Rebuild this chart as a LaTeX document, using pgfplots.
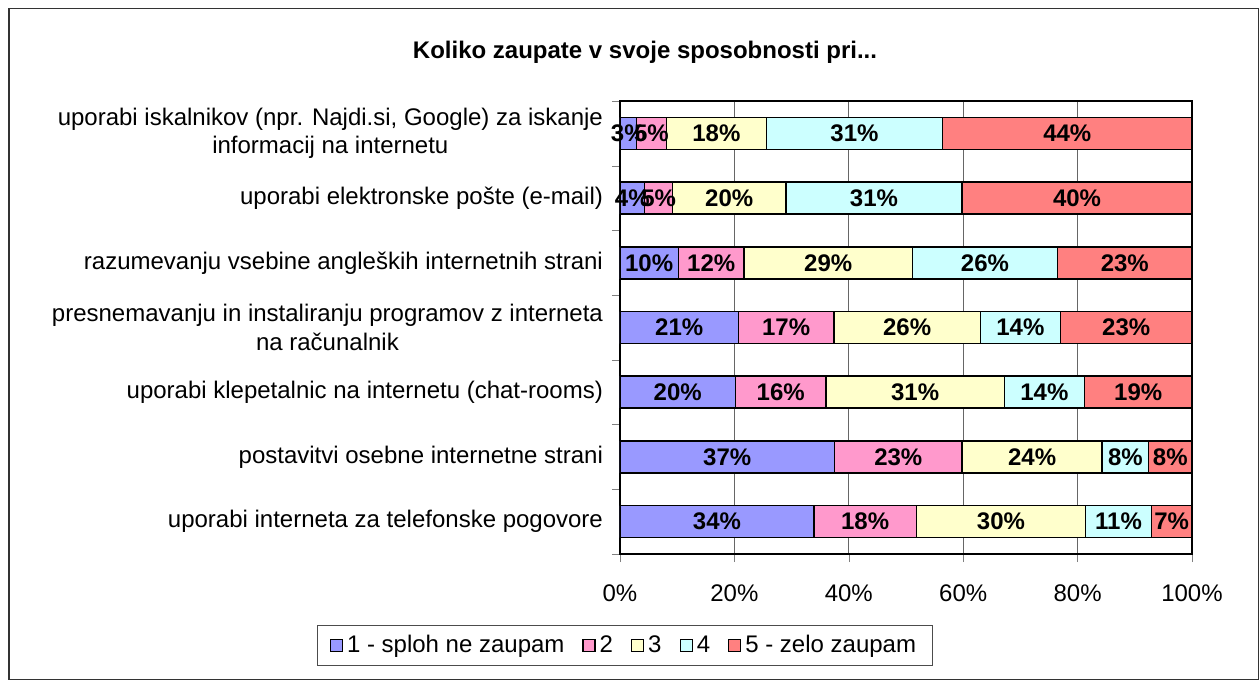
\documentclass[border=0pt]{standalone}
\usepackage{fontspec}
\setmainfont{Liberation Sans}
\usepackage{pgfplots}
\usepackage{pgfplotstable}
\pgfplotsset{compat=1.18}

\definecolor{c1}{HTML}{9999FF}
\definecolor{c2}{HTML}{FF99CC}
\definecolor{c3}{HTML}{FFFFCC}
\definecolor{c4}{HTML}{CCFFFF}
\definecolor{c5}{HTML}{FF8080}
\newcommand\chartfont{\fontsize{12}{14.4}\selectfont}

% y=6 is the top row; a..e shares, la..le printed labels
\pgfplotstableread{
y  a    b    c    d    e    la lb lc ld le
6  2.9  5.2  17.5 30.8 43.6 3  5  18 31 44
5  4.3  4.9  19.8 30.8 40.2 4  5  20 31 40
4  10.2 11.5 29.4 25.4 23.5 10 12 29 26 23
3  20.7 16.7 25.6 14.0 23.0 21 17 26 14 23
2  20.2 15.8 31.2 14.0 18.8 20 16 31 14 19
1  37.5 22.3 24.5 8.1  7.6  37 23 24 8  8
0  33.9 17.9 29.6 11.5 7.1  34 18 30 11 7
}\data

\begin{document}
\begin{tikzpicture}
\useasboundingbox (-310pt,-63.5pt) rectangle (320pt,277pt);
\draw[black!80, line width=0.75pt] (-305.5pt,-62.75pt) rectangle (319.25pt,272.75pt);
\begin{axis}[
    xbar stacked,
    scale only axis,
    width=286pt, height=226.5pt,
    xmin=0, xmax=100, ymin=-0.5, ymax=6.5,
    bar width=16pt,
    tick pos=left, tick align=outside,
    major tick length=0pt, minor tick length=4pt,
    xtick={0,20,...,100},
    minor xtick={0,20,...,100},
    xticklabels={0\%,20\%,40\%,60\%,80\%,100\%},
    xticklabel style={font=\chartfont, yshift=-12pt},
    ytick={0,...,6},
    minor ytick={-0.5,0.5,...,6.5},
    yticklabels={
        uporabi interneta za telefonske pogovore,
        postavitvi osebne internetne strani,
        uporabi klepetalnic na internetu (chat-rooms),
        presnemavanju in instaliranju programov z interneta\\na računalnik,
        razumevanju vsebine angleških internetnih strani,
        uporabi elektronske pošte (e-mail),
        {uporabi iskalnikov (npr. Najdi.si, Google) za iskanje\\informacij na internetu}},
    yticklabel style={font=\chartfont, align=center, xshift=-5pt},
    xmajorgrids,
    major grid style={black!60, line width=0.4pt},
    axis line style={black, line width=0.8pt},
    every axis plot/.append style={draw=black, line width=0.75pt},
    point meta=explicit symbolic,
    nodes near coords={\pgfplotspointmeta\%},
    nodes near coords style={font=\bfseries\chartfont, anchor=center},
    legend style={at={(axis description cs:0.0087,-0.202)}, anchor=center,
        legend columns=-1, draw=black!70, font=\chartfont,
        inner xsep=6pt, inner ysep=3pt,
        /tikz/every even column/.append style={column sep=7pt}},
    legend image code/.code={\draw[#1, draw=black, line width=0.6pt] (0pt,-3pt) rectangle (6pt,3pt);},
]
\addplot[fill=c1] table[x=a, y=y, meta=la] {\data};
\addplot[fill=c2] table[x=b, y=y, meta=lb] {\data};
\addplot[fill=c3] table[x=c, y=y, meta=lc] {\data};
\addplot[fill=c4] table[x=d, y=y, meta=ld] {\data};
\addplot[fill=c5] table[x=e, y=y, meta=le] {\data};
\legend{1 - sploh ne zaupam, 2, 3, 4, 5 - zelo zaupam}
\end{axis}
\node[font=\bfseries\chartfont] at (12.5pt,251pt) {Koliko zaupate v svoje sposobnosti pri...};
\end{tikzpicture}
\end{document}
